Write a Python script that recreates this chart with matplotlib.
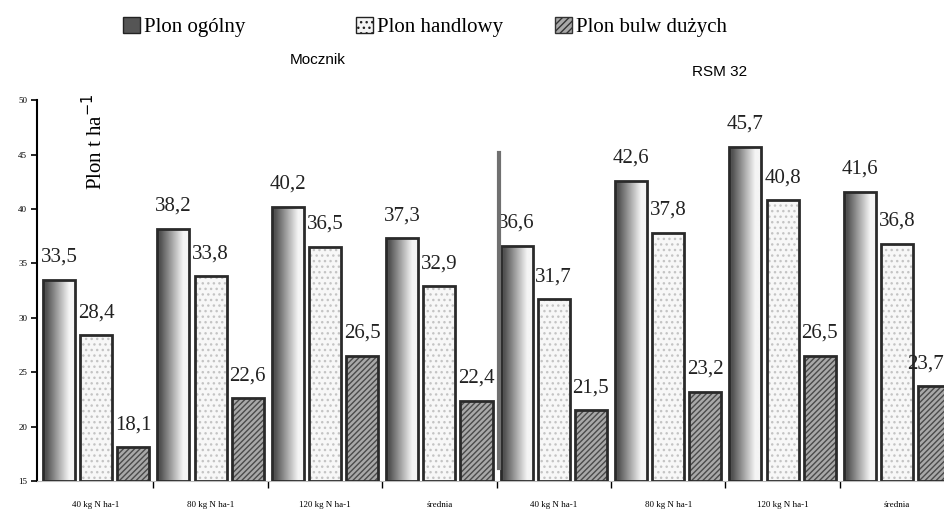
import matplotlib.pyplot as plt
import numpy as np
from matplotlib.patches import Patch

plt.rcParams['font.family'] = ['Liberation Serif', 'DejaVu Serif']

categories = ["40 kg N ha-1", "80 kg N ha-1", "120 kg N ha-1", "średnia",
              "40 kg N ha-1", "80 kg N ha-1", "120 kg N ha-1", "średnia"]
plon_ogolny = [33.5, 38.2, 40.2, 37.3, 36.6, 42.6, 45.7, 41.6]
plon_handlowy = [28.4, 33.8, 36.5, 32.9, 31.7, 37.8, 40.8, 36.8]
plon_duzych = [18.1, 22.6, 26.5, 22.4, 21.5, 23.2, 26.5, 23.7]
names = ["Plon ogólny", "Plon handlowy", "Plon bulw dużych"]

base = 15
x = np.arange(len(categories))
w = 0.28
step = 0.325

fig = plt.figure(figsize=(9.45, 5.19), dpi=100)
ax = fig.add_axes([0.039, 0.073, 0.961, 0.734])
ax.set_xlim(-0.518, 7.42)
ax.set_ylim(15, 50)

def fmt(v):
    return ("%.1f" % v).replace(".", ",")

# plon ogolny - shaded (gradient) bars, dark left -> light right
t = np.linspace(0, 1, 64)
grad = (0.32 + 0.64 * np.clip((t - 0.1) / 0.7, 0, 1)).reshape(1, -1)
bars1 = ax.bar(x - step, np.array(plon_ogolny) - base, w, bottom=base,
               facecolor='none', edgecolor='#2a2a2a', linewidth=2, zorder=3)
for b in bars1:
    im = ax.imshow(grad, cmap='gray', vmin=0, vmax=1, aspect='auto',
                   extent=[b.get_x(), b.get_x() + b.get_width(), base, base + b.get_height()],
                   zorder=2, interpolation='bicubic')
    im.set_clip_path(b)

# plon handlowy - light dotted
ax.bar(x, np.array(plon_handlowy) - base, w, bottom=base, facecolor='#f7f7f7',
       edgecolor='#c4c4c4', hatch='...', linewidth=0, zorder=2)
ax.bar(x, np.array(plon_handlowy) - base, w, bottom=base, fill=False,
       edgecolor='#2a2a2a', linewidth=2, zorder=3)

# plon bulw duzych - hatched
ax.bar(x + step, np.array(plon_duzych) - base, w, bottom=base, facecolor='#a8a8a8',
       edgecolor='#4a4a4a', hatch='//////', linewidth=0, zorder=2)
ax.bar(x + step, np.array(plon_duzych) - base, w, bottom=base, fill=False,
       edgecolor='#2a2a2a', linewidth=2, zorder=3)

xmax = ax.get_xlim()[1]
for i in range(len(categories)):
    ax.text(x[i] - step, plon_ogolny[i] + 1.2, fmt(plon_ogolny[i]), ha='center',
            va='bottom', fontsize=15, color='#222222')
    ax.text(x[i], plon_handlowy[i] + 1.2, fmt(plon_handlowy[i]), ha='center',
            va='bottom', fontsize=15, color='#222222')
    if i == len(categories) - 1:
        ax.text(xmax - 0.01, plon_duzych[i] + 1.2, fmt(plon_duzych[i]),
                ha='right', va='bottom', fontsize=15, color='#222222')
    else:
        ax.text(x[i] + step, plon_duzych[i] + 1.2, fmt(plon_duzych[i]), ha='center',
                va='bottom', fontsize=15, color='#222222')

ax.axvline(3.52, ymin=0.034, ymax=0.86, color='#707070', linewidth=3, zorder=4)

ax.set_yticks(range(15, 51, 5))
ax.set_yticklabels([str(t) for t in range(15, 51, 5)], fontsize=6.5)
ax.set_xticks(x)
ax.set_xticklabels(categories, fontsize=6.5)
ax.set_xticks(x[:-1] + 0.5, minor=True)
ax.tick_params(axis='x', which='major', length=0, pad=14)
ax.tick_params(axis='x', which='minor', length=5, width=1, direction='out')
ax.tick_params(axis='y', length=4, width=1.2, direction='out', pad=3)
for s in ['top', 'right']:
    ax.spines[s].set_visible(False)
ax.spines['left'].set_linewidth(1.5)
ax.spines['bottom'].set_color('#bbbbbb')
ax.spines['bottom'].set_linewidth(0.8)

ax.text(0.064, 0.89, "Plon t ha$^{-1}$", transform=ax.transAxes, rotation=90,
        ha='center', va='center', fontsize=15)

fig.text(318 / 945, 1 - 60 / 519, "Mocznik", ha='center', va='center',
         fontsize=11, family='Liberation Sans')
fig.text(720 / 945, 1 - 72 / 519, "RSM 32", ha='center', va='center',
         fontsize=11, family='Liberation Sans')

handles = [Patch(facecolor='#555555', edgecolor='#222222'),
           Patch(facecolor='#f4f4f4', edgecolor='#222222', hatch='...'),
           Patch(facecolor='#a8a8a8', edgecolor='#333333', hatch='/////')]
xpos = [123 / 945, 356 / 945, 555 / 945]
for h, n, xp in zip(handles, names, xpos):
    fig.legend([h], [n], loc='center left', bbox_to_anchor=(xp, 1 - 27 / 519),
               frameon=False, fontsize=15, handlelength=0.8, handleheight=0.8,
               handletextpad=0.2, borderpad=0, borderaxespad=0)

fig.savefig('out.png', dpi=100)
